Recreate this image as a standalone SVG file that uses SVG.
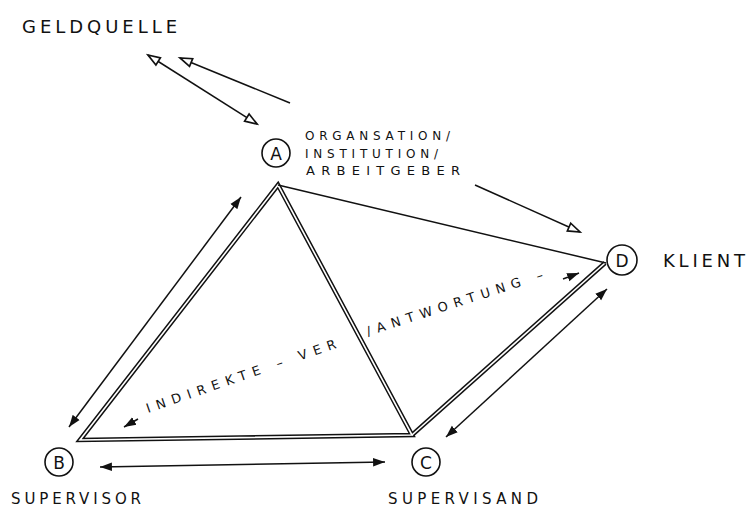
<svg xmlns="http://www.w3.org/2000/svg" width="750" height="510" viewBox="0 0 750 510">
<style>
.bg{fill:#fff}
.node{fill:#fff;stroke:#111;stroke-width:1.6}
.nl{font-family:"DejaVu Sans",sans-serif;font-size:17px;fill:#111;text-anchor:middle;dominant-baseline:central}
.lbl{font-family:"DejaVu Sans",sans-serif;fill:#111}
.ln{fill:none;stroke:#111;stroke-width:1.5}
.outer{fill:none;stroke:#111;stroke-width:4.6;stroke-linejoin:miter}
.inner{fill:none;stroke:#fff;stroke-width:1.6;stroke-linejoin:miter}
</style>
<defs>
<marker id="open" markerUnits="userSpaceOnUse" markerWidth="16" markerHeight="12" refX="11" refY="5" orient="auto-start-reverse" viewBox="0 0 13 10">
<path d="M1,1.5 L11,5 L1,8.5 Z" fill="#fff" stroke="#111" stroke-width="1.4"/>
</marker>
<marker id="solid" markerUnits="userSpaceOnUse" markerWidth="13" markerHeight="10" refX="11" refY="4.5" orient="auto-start-reverse" viewBox="0 0 12 9">
<path d="M0,0.5 L11,4.5 L0,8.5 Z" fill="#111"/>
</marker>
</defs>
<rect class="bg" x="0" y="0" width="750" height="510"/>
<g id="connectors">
<path class="outer" d="M278,185 L80,440 L412,435 Z"/>
<path class="outer" d="M412,435 L605,263"/>
<path class="inner" d="M278,185 L80,440 L412,435 Z"/>
<path class="inner" d="M412,435 L605,263"/>
<path class="ln" d="M278,185 L606,263"/>
<path class="ln" d="M290,103 L180,58" marker-end="url(#open)"/>
<path class="ln" d="M148,55 L257,124" marker-start="url(#open)" marker-end="url(#open)"/>
<path class="ln" d="M475,185 L580,232" marker-end="url(#open)"/>
<path class="ln" d="M69,427 L241,197" marker-start="url(#solid)" marker-end="url(#solid)"/>
<path class="ln" d="M100,467 L385,462" marker-start="url(#solid)" marker-end="url(#solid)"/>
<path class="ln" d="M446,437 L607,289" marker-start="url(#solid)" marker-end="url(#solid)"/>
<path class="ln" d="M138,419 L124,427" marker-end="url(#solid)"/>
<path class="ln" d="M563,279 L579,273" marker-end="url(#solid)"/>
</g>
<g id="node-A">
<circle class="node" cx="276" cy="153" r="14"/>
<text class="nl" x="276" y="154">A</text>
<text class="lbl" font-size="12" x="305" y="140" textLength="145" lengthAdjust="spacing">ORGANSATION/</text>
<text class="lbl" font-size="12" x="305" y="158" textLength="133" lengthAdjust="spacing">INSTITUTION/</text>
<text class="lbl" font-size="13" x="306" y="175" textLength="154" lengthAdjust="spacing">ARBEITGEBER</text>
</g>
<g id="node-B">
<circle class="node" cx="59" cy="462" r="14"/>
<text class="nl" x="59" y="463">B</text>
<text class="lbl" font-size="15" x="11" y="504" textLength="130" lengthAdjust="spacing">SUPERVISOR</text>
</g>
<g id="node-C">
<circle class="node" cx="426" cy="462" r="14"/>
<text class="nl" x="426" y="463">C</text>
<text class="lbl" font-size="15" x="388" y="504" textLength="150" lengthAdjust="spacing">SUPERVISAND</text>
</g>
<g id="node-D">
<circle class="node" cx="622" cy="260" r="15"/>
<text class="nl" x="622" y="261">D</text>
<text class="lbl" font-size="18" x="663" y="267" textLength="82" lengthAdjust="spacing">KLIENT</text>
</g>
<g id="node-geldquelle">
<text class="lbl" font-size="18" x="22" y="33" textLength="155" lengthAdjust="spacing">GELDQUELLE</text>
</g>
<g id="edge-labels">
<text class="lbl" font-size="13" transform="translate(148,413) rotate(-19)" textLength="200" lengthAdjust="spacing">INDIREKTE – VER</text>
<text class="lbl" font-size="13" transform="translate(368,336) rotate(-18)" textLength="185" lengthAdjust="spacing">/ANTWORTUNG –</text>
</g>
</svg>
